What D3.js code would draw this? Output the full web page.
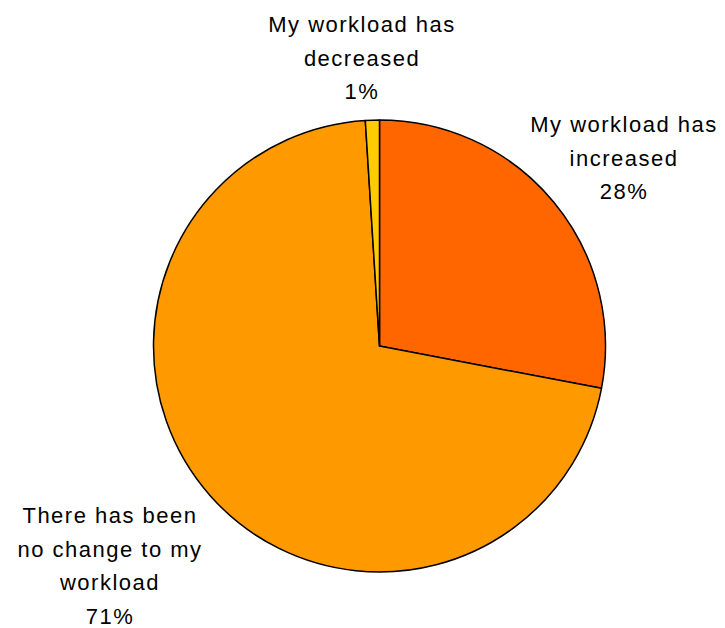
<!DOCTYPE html>
<html>
<head>
<meta charset="utf-8">
<script src="https://cdn.jsdelivr.net/npm/d3@7"></script>
<style>
  html, body { margin: 0; padding: 0; background: #fff; }
  svg { display: block; }
  text { font-family: "Liberation Sans", Arial, sans-serif; font-size: 22px; fill: #000; letter-spacing: 1.5px; }
</style>
</head>
<body>
<svg id="chart" width="725" height="628"></svg>
<script>
// Workload change responses (percent of respondents)
const categories = ["My workload has increased", "There has been no change to my workload", "My workload has decreased"];
const values = [28, 71, 1];
const colors = ["#FF6600", "#FF9900", "#FFCC00"];
// Label lines for each slice (last line is the value)
const labelLines = [
  ["My workload has", "increased"],
  ["There has been", "no change to my", "workload"],
  ["My workload has", "decreased"]
];

const W = 725, H = 628;
const cx = 379.5, cy = 346, R = 226;
const lineH = 33.5;

const svg = d3.select("#chart");
const g = svg.append("g").attr("transform", `translate(${cx},${cy})`);

const data = categories.map((c, i) => ({ name: c, value: values[i], color: colors[i], lines: labelLines[i] }));

const pie = d3.pie().sort(null).value(d => d.value).startAngle(0).endAngle(2 * Math.PI);
const arc = d3.arc().innerRadius(0).outerRadius(R);

const arcs = pie(data);

g.selectAll("path.slice")
  .data(arcs)
  .enter().append("path")
  .attr("class", "slice")
  .attr("d", arc)
  .attr("fill", d => d.data.color)
  .attr("stroke", "#000")
  .attr("stroke-width", 1.5)
  .attr("stroke-linejoin", "round");

// Label anchors (x centre, first baseline) in page coordinates
const labelAnchors = [
  { x: 624, y: 132 },
  { x: 110, y: 523 },
  { x: 362, y: 32 }
];

arcs.forEach((a, i) => {
  const lines = a.data.lines.concat([d3.format(".0f")(a.data.value) + "%"]);
  const t = svg.append("text")
    .attr("text-anchor", "middle")
    .attr("x", labelAnchors[i].x)
    .attr("y", labelAnchors[i].y);
  lines.forEach((ln, j) => {
    t.append("tspan")
      .attr("x", labelAnchors[i].x)
      .attr("dy", j === 0 ? 0 : lineH)
      .text(ln);
  });
});
</script>
</body>
</html>
